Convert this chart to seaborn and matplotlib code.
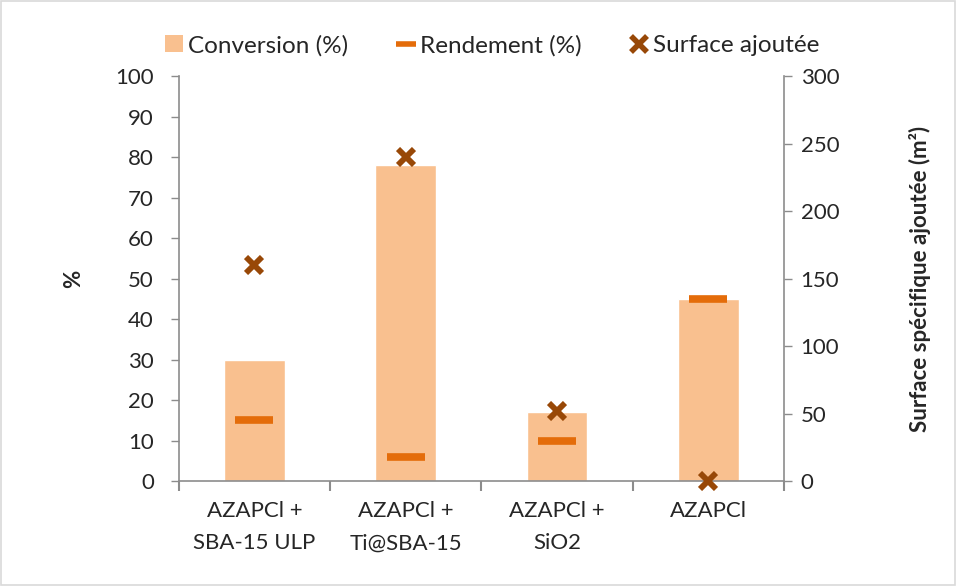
import matplotlib
matplotlib.use("Agg")
import matplotlib.pyplot as plt
import seaborn as sns
import pandas as pd
from matplotlib.lines import Line2D
from matplotlib.patches import Patch

categories = ["AZAPCl +\nSBA-15 ULP", "AZAPCl +\nTi@SBA-15", "AZAPCl +\nSiO2", "AZAPCl"]
conversion = [30, 78, 17, 45]
rendement = [15, 6, 10, 45]
surface = [160, 240, 52, 0]

sns.set_theme(style="white")
plt.rcParams['font.family'] = ['Lato', 'DejaVu Sans']

bar_c = "#F9C08F"
rend_c = "#E46C0A"
surf_c = "#984807"
axis_c = "#8C8C8C"

fig = plt.figure(figsize=(9.56, 5.86), dpi=100)
ax = fig.add_axes([0.187, 0.179, 0.633, 0.691])

df = pd.DataFrame({"cat": categories, "conv": conversion, "rend": rendement, "surf": surface})
sns.barplot(data=df, x="cat", y="conv", color=bar_c, width=0.4, ax=ax, saturation=1)
ax.plot(range(len(categories)), rendement, linestyle="none", marker="_", markersize=27,
        markeredgewidth=5.5, color=rend_c, zorder=5)

ax2 = ax.twinx()
ax2.plot(range(len(categories)), surface, linestyle="none", marker="x", markersize=11.5,
         markeredgewidth=4.2, color=surf_c, zorder=6, clip_on=False)

ax.set_ylim(0, 100)
ax2.set_ylim(0, 300)
ax.set_xlim(-0.5, 3.5)
ax.set_yticks(range(0, 101, 10))
ax2.set_yticks(range(0, 301, 50))

fs = 16
ax.set_xticks(range(4))
ax.set_xticklabels(categories, fontsize=fs, linespacing=1.8)
ax.tick_params(axis="y", labelsize=fs, direction="out", length=6, color=axis_c, width=1, pad=12, left=True)
ax2.tick_params(axis="y", labelsize=fs, direction="out", length=6, color=axis_c, width=1, pad=6, right=True)
ax.set_xticks([-0.5, 0.5, 1.5, 2.5, 3.5], minor=True)
ax.tick_params(axis="x", which="major", length=0, pad=14)
ax.tick_params(axis="x", which="minor", length=7, color=axis_c, width=1.5, direction="out", bottom=True)

for a in (ax, ax2):
    a.spines["top"].set_visible(False)
    for s in ["left", "right", "bottom"]:
        a.spines[s].set_color(axis_c)
        a.spines[s].set_linewidth(1.2)
ax.spines["right"].set_visible(False)
ax2.spines["left"].set_visible(False)
ax2.spines["bottom"].set_visible(False)

ax.set_xlabel("")
ax.set_ylabel("%", fontsize=fs, fontweight="bold", labelpad=22)
ax2.set_ylabel("Surface spécifique ajoutée (m²)", fontsize=fs, fontweight="bold", labelpad=50)

handles = [
    Patch(facecolor=bar_c, edgecolor="none"),
    Line2D([], [], linestyle="none", marker="_", markersize=14, markeredgewidth=4, color=rend_c),
    Line2D([], [], linestyle="none", marker="x", markersize=11, markeredgewidth=4, color=surf_c),
]
labels = ["Conversion (%)", "Rendement (%)", "Surface ajoutée"]
fig.legend(handles, labels, loc="center", bbox_to_anchor=(0.515, 0.922), ncol=3, frameon=False,
           fontsize=17.5, handlelength=0.75, handletextpad=0.2, columnspacing=2.0)

fig.patches.append(plt.Rectangle((0.001, 0.001), 0.998, 0.998, transform=fig.transFigure,
                                 fill=False, edgecolor="#D9D9D9", linewidth=1.2))

fig.savefig("out.png", dpi=100)
